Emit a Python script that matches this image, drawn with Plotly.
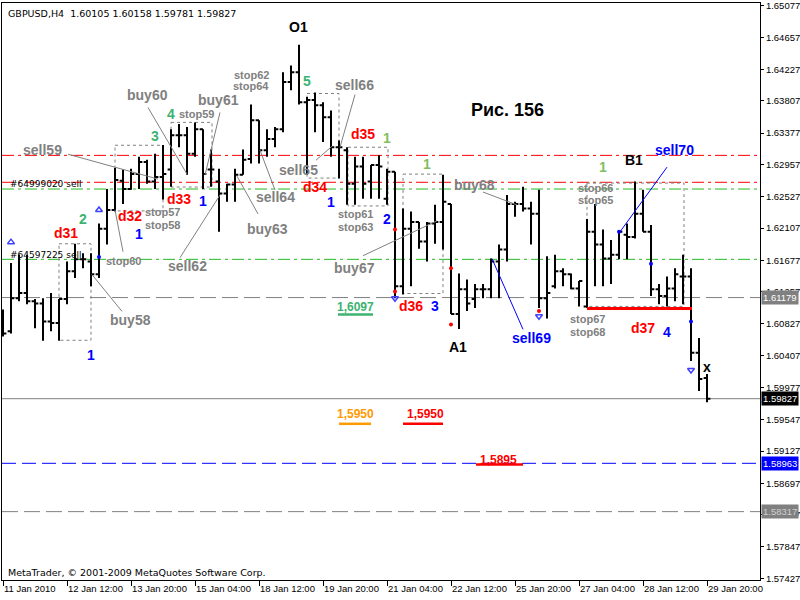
import plotly.graph_objects as go

# ---------------- data (GBPUSD H4) ----------------
opens = [1.6093,1.6073,1.6117,1.6124,1.6113,1.6110,1.6086,1.6084,1.6116,1.6153,
         1.6169,1.6166,1.6149,1.6210,1.6235,1.6274,1.6263,1.6283,1.6299,1.6273,
         1.6279,1.6289,1.6335,1.6335,1.6310,1.6343,1.6289,1.6273,1.6257,1.6269,
         1.6282,1.6303,1.6355,1.6315,1.6330,1.6343,1.6406,1.6419,1.6379,1.6382,
         1.6375,1.6359,1.6319,1.6315,1.6270,1.6293,1.6273,1.6295,1.6250,1.6286,
         1.6133,1.6210,1.6219,1.6193,1.6217,1.6219,1.6243,1.6096,1.6129,1.6116,
         1.6129,1.6129,1.6166,1.6182,1.6243,1.6243,1.6237,1.6230,1.6117,1.6133,
         1.6153,1.6149,1.6130,1.6106,1.6206,1.6189,1.6170,1.6175,1.6202,1.6199,
         1.6230,1.6206,1.6129,1.6120,1.6130,1.6146,1.6146,1.6044,1.60105]
highs = [1.6102,1.6164,1.6175,1.6175,1.6116,1.6117,1.6124,1.6116,1.6166,1.6190,
         1.6177,1.6177,1.6217,1.6263,1.6291,1.6289,1.6290,1.6306,1.6302,1.6310,
         1.6322,1.6343,1.6350,1.6346,1.6352,1.6343,1.6316,1.6290,1.6270,1.6290,
         1.6316,1.6376,1.6355,1.6343,1.6346,1.6419,1.6428,1.6456,1.6386,1.6392,
         1.6379,1.6368,1.6328,1.6319,1.6306,1.6306,1.6295,1.6308,1.6290,1.6286,
         1.6237,1.6233,1.6219,1.6219,1.6242,1.6282,1.6243,1.6150,1.6142,1.6136,
         1.6136,1.6170,1.6189,1.6255,1.6246,1.6266,1.6246,1.6262,1.6173,1.6175,
         1.6157,1.6150,1.6140,1.6223,1.6243,1.6209,1.6195,1.6206,1.6217,1.6273,
         1.6262,1.6215,1.6136,1.6146,1.6157,1.6175,1.6157,1.6064,1.60158]
lows = [1.6066,1.6070,1.6113,1.6109,1.6077,1.6060,1.6073,1.6060,1.6109,1.6144,
        1.6157,1.6133,1.6144,1.6189,1.6233,1.6243,1.6262,1.6263,1.6270,1.6263,
        1.6249,1.6266,1.6319,1.6282,1.6306,1.6263,1.6266,1.6206,1.6246,1.6246,
        1.6282,1.6297,1.6297,1.6306,1.6319,1.6339,1.6395,1.6376,1.6282,1.6339,
        1.6326,1.6306,1.6277,1.6242,1.6242,1.6250,1.6250,1.6250,1.6242,1.6117,
        1.6122,1.6133,1.6183,1.6166,1.6190,1.6182,1.6096,1.6076,1.6100,1.6104,
        1.6117,1.6117,1.6117,1.6166,1.6226,1.6233,1.6189,1.6104,1.6090,1.6130,
        1.6133,1.6129,1.6106,1.6104,1.6133,1.6133,1.6136,1.6169,1.6169,1.6197,
        1.6206,1.6120,1.6109,1.6106,1.6113,1.6109,1.6033,1.5993,1.59781]
closes = [1.6070,1.6117,1.6124,1.6113,1.6110,1.6086,1.6084,1.6116,1.6153,1.6169,
          1.6169,1.6149,1.6210,1.6235,1.6275,1.6263,1.6283,1.6299,1.6273,1.6279,
          1.6283,1.6335,1.6335,1.6310,1.6343,1.6283,1.6289,1.6257,1.6269,1.6282,
          1.6302,1.6355,1.6315,1.6330,1.6343,1.6406,1.6419,1.6379,1.6382,1.6375,
          1.6359,1.6319,1.6319,1.6270,1.6293,1.6270,1.6295,1.6293,1.6286,1.6133,
          1.6210,1.6219,1.6193,1.6217,1.6219,1.6246,1.6096,1.6129,1.6110,1.6129,
          1.6129,1.6166,1.6182,1.6243,1.6243,1.6237,1.6230,1.6117,1.6124,1.6153,
          1.6149,1.6130,1.6140,1.6206,1.6189,1.6170,1.6175,1.6206,1.6199,1.6230,
          1.6206,1.6129,1.6120,1.6130,1.6149,1.6146,1.6044,1.6009,1.59827]
bar_index = list(range(len(opens)))

x_tick_index = [0, 8, 16, 24, 32, 40, 48, 56, 64, 72, 80, 88]
x_tick_labels = ["11 Jan 2010", "12 Jan 12:00", "13 Jan 20:00", "15 Jan 04:00",
                 "18 Jan 12:00", "19 Jan 20:00", "21 Jan 04:00", "22 Jan 12:00",
                 "25 Jan 20:00", "27 Jan 04:00", "28 Jan 12:00", "29 Jan 20:00"]
y_tick_values = [1.65077, 1.64657, 1.64227, 1.63807, 1.63377, 1.62957, 1.62527,
                 1.62107, 1.61677, 1.61257, 1.60827, 1.60407, 1.59977, 1.59547,
                 1.59127, 1.58697, 1.58277, 1.57847, 1.57427]

red_levels = [1.6308, 1.6272]
green_levels = [1.6263, 1.6169]
gray_level_1 = 1.61179
bid_level = 1.59827
blue_level = 1.58963
gray_level_2 = 1.58317

# marker points (bar index, price)
up_arrow_x = [1, 12]
up_arrow_y = [1.6192, 1.6235]
down_arrow_x = [49, 67, 86]
down_arrow_y = [1.6117, 1.6093, 1.6021]
red_dot_x = [49, 49, 56, 56, 67]
red_dot_y = [1.6209, 1.6126, 1.6157, 1.6082, 1.6100]
blue_dot_x = [12, 81, 86, 77]
blue_dot_y = [1.6172, 1.6163, 1.6086, 1.6206]

# ---------------- geometry helpers ----------------
Y_TOP, Y_BOT = 1.65117, 1.57403
PLOT_H = 580.0
X_MIN, X_MAX = -0.125, 94.625


def X(px):
    return (px - 3) / 8.0


def Y(py):
    return Y_TOP - (Y_TOP - Y_BOT) * py / PLOT_H


fig = go.Figure()
fig.add_trace(go.Ohlc(x=bar_index, open=opens, high=highs, low=lows, close=closes,
                      increasing=dict(line=dict(color="black", width=2)),
                      decreasing=dict(line=dict(color="black", width=2)),
                      tickwidth=0.42, hoverinfo="skip", showlegend=False))

fig.add_trace(go.Scatter(x=up_arrow_x, y=up_arrow_y, mode="markers",
                         marker=dict(symbol="triangle-up-open", size=6, color="#4040ff", line=dict(width=1.5)),
                         hoverinfo="skip", showlegend=False))
fig.add_trace(go.Scatter(x=down_arrow_x, y=down_arrow_y, mode="markers",
                         marker=dict(symbol="triangle-down-open", size=6, color="#4040ff", line=dict(width=1.5)),
                         hoverinfo="skip", showlegend=False))
fig.add_trace(go.Scatter(x=red_dot_x, y=red_dot_y, mode="markers",
                         marker=dict(symbol="circle", size=4, color="red"),
                         hoverinfo="skip", showlegend=False))
fig.add_trace(go.Scatter(x=blue_dot_x, y=blue_dot_y, mode="markers",
                         marker=dict(symbol="circle", size=4, color="blue"),
                         hoverinfo="skip", showlegend=False))

shapes = []


def hline(level, color, dash, width=1):
    shapes.append(dict(type="line", xref="paper", x0=0, x1=1, yref="y", y0=level, y1=level,
                       line=dict(color=color, width=width, dash=dash), layer="below"))


for lv in red_levels:
    hline(lv, "#ff0000", "12px,4px,3px,4px")
for lv in green_levels:
    hline(lv, "#22bb22", "12px,4px,3px,4px")
hline(gray_level_1, "#808080", "16px,6px")
hline(bid_level, "#808080", "solid")
hline(blue_level, "#0000ff", "14px,6px")
hline(gray_level_2, "#808080", "16px,6px")

# dotted boxes (pixel coords)
boxes = [(59, 242, 91, 339), (115, 143, 163, 209), (171, 120, 212, 185),
         (307, 91, 339, 176), (348, 145, 388, 204), (403, 172, 443, 292),
         (587, 181, 684, 305)]
for x0, y0, x1, y1 in boxes:
    shapes.append(dict(type="rect", xref="x", yref="y", x0=X(x0), x1=X(x1), y0=Y(y0), y1=Y(y1),
                       line=dict(color="#808080", width=1, dash="3px,3px"), layer="below"))

# leader lines
segments = [
    (68, 152, 158, 177, "#808080"), (92, 273, 122, 310, "#808080"),
    (115, 208, 123, 250, "#808080"), (180, 256, 220, 193, "#808080"),
    (148, 105, 187, 172, "#808080"), (220, 110, 205, 173, "#808080"),
    (260, 148, 275, 188, "#808080"), (237, 174, 258, 212, "#808080"),
    (316, 158, 332, 144, "#808080"), (355, 92, 340, 145, "#808080"),
    (363, 254, 437, 219, "#808080"), (483, 190, 517, 203, "#808080"),
    (492, 257, 523, 328, "#0000ff"), (620, 230, 667, 165, "#0000ff"),
]
for x0, y0, x1, y1, c in segments:
    shapes.append(dict(type="line", xref="x", yref="y", x0=X(x0), x1=X(x1), y0=Y(y0), y1=Y(y1),
                       line=dict(color=c, width=1)))

# thick underlines
underlines = [(338, 313, 373, "#3cb371"), (339, 423, 371, "#ff9900"),
              (403, 423, 443, "#ff0000"), (476, 464, 523, "#ff0000"),
              (587, 307, 692, "#ff0000")]
for x0, yy, x1, c in underlines:
    shapes.append(dict(type="line", xref="x", yref="y", x0=X(x0), x1=X(x1), y0=Y(yy), y1=Y(yy),
                       line=dict(color=c, width=2.5 if x1 - x0 < 80 else 3)))

GRAY = "#808080"
RED = "#ff0000"
BLUE = "#0000ff"
GREEN = "#3cb371"
LGREEN = "#7fbf5f"
labels = [
    ("sell59", 42, 148, GRAY, 14), ("d31", 66, 231, RED, 14), ("2", 83, 217, GREEN, 14),
    ("stop60", 123, 259, GRAY, 11), ("buy58", 130, 319, GRAY, 14), ("1", 91, 354, BLUE, 14),
    ("3", 155, 134, GREEN, 14), ("d32", 130, 214, RED, 14), ("stop57", 162, 210, GRAY, 11),
    ("stop58", 162, 223, GRAY, 11), ("1", 139, 232, BLUE, 14), ("buy60", 147, 92, GRAY, 14),
    ("4", 171, 112, GREEN, 14), ("stop59", 196, 112, GRAY, 11), ("buy61", 218, 97, GRAY, 14),
    ("d33", 179, 197, RED, 14), ("1", 203, 199, BLUE, 14), ("stop62", 251, 72, GRAY, 11),
    ("stop64", 251, 83, GRAY, 11), ("sell64", 275, 195, GRAY, 14), ("buy63", 267, 227, GRAY, 14),
    ("sell62", 187, 264, GRAY, 14), ("sell65", 298, 168, GRAY, 14), ("5", 307, 78, GREEN, 14),
    ("O1", 298, 24, "black", 14), ("sell66", 354, 82, GRAY, 14), ("d35", 363, 132, RED, 14),
    ("1", 387, 136, LGREEN, 14), ("d34", 315, 185, RED, 14), ("1", 331, 200, BLUE, 14),
    ("stop61", 355, 212, GRAY, 11), ("stop63", 355, 225, GRAY, 11), ("2", 387, 217, BLUE, 14),
    ("1", 427, 162, LGREEN, 14), ("buy67", 354, 266, GRAY, 14), ("1,6097", 355, 306, GREEN, 12),
    ("d36", 411, 305, RED, 14), ("3", 435, 305, BLUE, 14), ("buy68", 474, 183, GRAY, 14),
    ("sell69", 531, 337, BLUE, 14), ("A1", 458, 346, "black", 14), ("1", 603, 165, LGREEN, 14),
    ("B1", 634, 158, "black", 14), ("sell70", 674, 148, BLUE, 14), ("stop66", 595, 186, GRAY, 11),
    ("stop65", 595, 198, GRAY, 11), ("stop67", 587, 318, GRAY, 11), ("stop68", 587, 331, GRAY, 11),
    ("d37", 643, 327, RED, 14), ("4", 667, 331, BLUE, 14), ("x", 707, 366, "black", 14),
    ("Рис. 156", 507, 108, "black", 18), ("1,5950", 355, 413, "#ff9900", 12),
    ("1,5950", 425, 413, RED, 12), ("1,5895", 498, 459, RED, 12),
]
annotations = []
for t, cx, cy, c, s in labels:
    annotations.append(dict(text="<b>%s</b>" % t, x=X(cx), y=Y(cy), xref="x", yref="y",
                            showarrow=False, xanchor="center", yanchor="middle", borderpad=0,
                            font=dict(family="Liberation Sans", size=s, color=c)))

left_texts = [("GBPUSD,H4  1.60105 1.60158 1.59781 1.59827", 6, 11, 11),
              ("#64999020 sell", 8, 182, 10.5), ("#64597225 sell", 8, 253, 10.5),
              ("MetaTrader, © 2001-2009 MetaQuotes Software Corp.", 6, 572, 11)]
for t, lx, cy, s in left_texts:
    annotations.append(dict(text=t, x=X(lx), y=Y(cy), xref="x", yref="y", showarrow=False,
                            xanchor="left", yanchor="middle",
                            font=dict(family="DejaVu Sans", size=s - 1.5, color="black")))

# highlighted price labels on the axis
price_tags = [(gray_level_1, "#808080", "white"), (bid_level, "black", "white"),
              (blue_level, "#0000ff", "white"), (gray_level_2, "#808080", "#d0d0d0")]
for lv, bg, fc in price_tags:
    annotations.append(dict(text="%.5f" % lv, x=1, xref="paper", y=lv, yref="y",
                            xanchor="left", yanchor="middle", xshift=1, showarrow=False,
                            bgcolor=bg, borderpad=1,
                            font=dict(family="Liberation Sans", size=9.5, color=fc)))

fig.update_layout(
    width=800, height=600,
    margin=dict(l=2, r=40, t=0, b=20),
    paper_bgcolor="white", plot_bgcolor="white",
    shapes=shapes, annotations=annotations,
    showlegend=False,
    xaxis=dict(range=[X_MIN, X_MAX], rangeslider=dict(visible=False),
               tickmode="array", tickvals=x_tick_index, ticktext=x_tick_labels,
               ticks="outside", ticklen=5, tickcolor="black", ticklabelposition="outside right",
               showgrid=False, zeroline=False, showline=True, linecolor="black", linewidth=1,
               mirror=True, tickfont=dict(family="Liberation Sans", size=9.5, color="black")),
    yaxis=dict(range=[Y_BOT, Y_TOP], side="right", tickmode="array",
               tickvals=y_tick_values, ticktext=["%.5f" % v for v in y_tick_values],
               ticks="outside", ticklen=3, tickcolor="black", ticklabeloverflow="allow",
               showgrid=False, zeroline=False, showline=True, linecolor="black", linewidth=1,
               mirror=True, tickfont=dict(family="Liberation Sans", size=9.5, color="black")),
)

fig.write_html("out.html")
